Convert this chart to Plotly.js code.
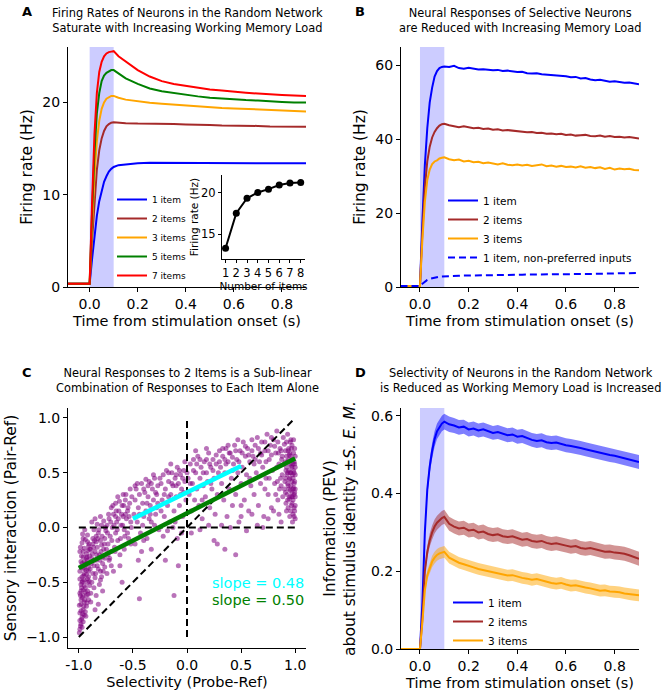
<!DOCTYPE html>
<html>
<head>
<meta charset="utf-8">
<script src="https://cdn.plot.ly/plotly-3.0.1.min.js"></script>
<style>html,body{margin:0;padding:0;background:#fff;}#chart{width:666px;height:695px;}</style>
</head>
<body>
<div id="chart"></div>
<script>
// ---------- Panel A: firing rates, random network ----------
const timeA = [-0.09, 0, 0.01, 0.02, 0.03, 0.04, 0.05, 0.06, 0.07, 0.08, 0.09, 0.1,
  0.12, 0.15, 0.2, 0.25, 0.3, 0.35, 0.4, 0.45, 0.5, 0.55, 0.6, 0.65, 0.7, 0.75, 0.8, 0.85, 0.9];
const rateA1 = [0.35, 0.35, 3, 5.6, 7.7, 9.3, 10.5, 11.4, 12.0, 12.5, 12.8, 13.0,
  13.2, 13.3, 13.4, 13.45, 13.45, 13.45, 13.4, 13.45, 13.4, 13.4, 13.4, 13.45, 13.4, 13.4, 13.4, 13.4, 13.4];
const rateA2 = [0.35, 0.35, 5, 9.5, 12.7, 14.8, 16.1, 16.9, 17.4, 17.65, 17.8, 17.85,
  17.8, 17.75, 17.7, 17.7, 17.65, 17.65, 17.6, 17.6, 17.55, 17.5, 17.5, 17.45, 17.45, 17.4, 17.4, 17.35, 17.35];
const rateA3 = [0.35, 0.35, 6.5, 12, 15.8, 18.0, 19.3, 20.0, 20.4, 20.6, 20.7, 20.7,
  20.5, 20.3, 20.1, 19.95, 19.85, 19.75, 19.65, 19.55, 19.5, 19.4, 19.35, 19.3, 19.2, 19.15, 19.1, 19.05, 19.0];
const rateA5 = [0.35, 0.35, 8, 14.5, 18.8, 21.0, 22.3, 22.9, 23.2, 23.4, 23.5, 23.5,
  23.1, 22.6, 22.0, 21.5, 21.2, 21.0, 20.8, 20.65, 20.5, 20.4, 20.35, 20.25, 20.2, 20.1, 20.05, 20.0, 20.0];
const rateA7 = [0.35, 0.35, 9, 16.5, 21, 23.3, 24.4, 25.0, 25.3, 25.45, 25.5, 25.55,
  25.0, 24.4, 23.5, 22.8, 22.3, 22.0, 21.8, 21.6, 21.4, 21.3, 21.15, 21.05, 20.95, 20.85, 20.8, 20.75, 20.7];
const labelsA = ['1 item', '2 items', '3 items', '5 items', '7 items'];

// inset: delay firing rate vs number of items
const insetItems = [1, 2, 3, 4, 5, 6, 7, 8];
const insetRate = [13.3, 17.5, 19.3, 20.0, 20.4, 20.9, 21.15, 21.2];

// ---------- Panel B: selective neurons ----------
const timeB = [-0.08, 0, 0.01, 0.02, 0.03, 0.04, 0.05, 0.06, 0.07, 0.08, 0.09, 0.1,
  0.12, 0.14, 0.16, 0.18, 0.2, 0.22, 0.24, 0.26, 0.28, 0.3, 0.32, 0.34, 0.36, 0.38, 0.4,
  0.42, 0.44, 0.46, 0.48, 0.5, 0.52, 0.54, 0.56, 0.58, 0.6, 0.62, 0.64, 0.66, 0.68, 0.7,
  0.72, 0.74, 0.76, 0.78, 0.8, 0.82, 0.84, 0.86, 0.88, 0.9];
const rateB1 = [0.3, 0.3, 18, 33, 43, 50, 54, 57, 58.5, 59.3, 59.6, 59.7,
  59.6, 59.9, 59.3, 59.1, 59.4, 59.2, 58.9, 59.0, 58.8, 58.7, 58.8, 58.5, 58.6, 58.4, 58.2,
  58.3, 57.9, 57.8, 57.9, 57.6, 57.5, 57.6, 57.3, 57.2, 57.1, 56.8, 56.9, 56.5, 56.6, 56.2,
  56.0, 56.1, 55.8, 55.6, 55.7, 55.4, 55.3, 55.4, 55.1, 54.9];
const rateB2 = [0.3, 0.3, 15, 27, 34, 38, 40.5, 42, 43, 43.7, 44.1, 44.2,
  43.8, 43.6, 43.3, 43.5, 43.2, 43.0, 43.1, 42.8, 42.9, 42.6, 42.7, 42.4, 42.5, 42.3, 42.3,
  42.1, 41.9, 42.0, 41.7, 41.8, 41.5, 41.6, 41.4, 41.5, 41.2, 41.3, 41.0, 41.1, 41.2, 40.9,
  40.8, 41.0, 40.7, 40.9, 40.6, 40.7, 40.5, 40.6, 40.4, 40.2];
const rateB3 = [0.3, 0.3, 13, 23, 29, 31.8, 33.3, 34.0, 34.3, 34.8, 35.0, 35.1,
  34.6, 34.3, 34.5, 34.0, 34.2, 33.8, 33.9, 33.5, 33.7, 33.4, 33.2, 33.5, 33.1, 33.0, 33.2,
  32.9, 33.1, 32.8, 33.0, 33.2, 32.7, 32.9, 32.6, 32.8, 32.5, 32.6, 32.4, 32.7, 32.3, 32.5,
  32.2, 32.4, 32.0, 32.3, 31.8, 32.1, 31.9, 32.0, 31.7, 31.6];
const rateB1np = [0.3, 0.3, 0.9, 1.5, 1.9, 2.2, 2.4, 2.6, 2.7, 2.8, 2.85, 2.9,
  2.95, 3.0, 3.05, 3.1, 3.1, 3.15, 3.15, 3.2, 3.2, 3.2, 3.25, 3.25, 3.3, 3.3, 3.3,
  3.35, 3.35, 3.35, 3.4, 3.4, 3.4, 3.45, 3.45, 3.45, 3.5, 3.5, 3.5, 3.5, 3.55, 3.55,
  3.55, 3.6, 3.6, 3.6, 3.65, 3.65, 3.7, 3.7, 3.75, 3.8];
const labelsB = ['1 item', '2 items', '3 items', '1 item, non-preferred inputs'];

// ---------- Panel C: sensory interaction vs selectivity ----------
const scatterC = [
[-0.99,-0.93],[-0.98,-0.88],[-0.97,-0.82],[-0.99,-0.78],[-0.96,-0.75],[-0.98,-0.70],[-0.95,-0.68],[-0.97,-0.64],[-0.93,-0.62],[-0.99,-0.60],
[-0.96,-0.57],[-0.94,-0.55],[-0.98,-0.52],[-0.92,-0.50],[-0.95,-0.48],[-0.97,-0.45],[-0.93,-0.43],[-0.99,-0.40],[-0.91,-0.40],[-0.96,-0.37],
[-0.94,-0.34],[-0.98,-0.31],[-0.92,-0.30],[-0.96,-0.27],[-0.93,-0.24],[-0.99,-0.22],[-0.95,-0.19],[-0.91,-0.17],[-0.97,-0.14],[-0.94,-0.11],
[-0.92,-0.07],[-0.99,-0.85],[-0.97,-0.91],[-0.95,-0.80],[-0.93,-0.72],[-0.91,-0.66],[-0.96,-0.62],[-0.98,-0.58],[-0.94,-0.59],[-0.90,-0.53],
[-0.92,-0.47],[-0.97,-0.50],[-0.95,-0.42],[-0.91,-0.36],[-0.97,-0.33],[-0.93,-0.28],[-0.90,-0.26],[-0.96,-0.22],[-0.98,-0.76],[-0.96,-0.86],
[-0.94,-0.77],[-0.92,-0.58],[-0.98,-0.66],[-0.95,-0.53],[-0.91,-0.45],[-0.99,-0.47],[-0.93,-0.39],[-0.95,-0.31],[-0.90,-0.20],[-0.96,-0.10],
[-0.92,-0.13],[-0.98,-0.36],
[-0.89,-0.60],[-0.88,-0.50],[-0.87,-0.42],[-0.86,-0.35],[-0.88,-0.28],[-0.85,-0.22],[-0.87,-0.15],[-0.84,-0.08],[-0.86,-0.02],[-0.83,0.03],
[-0.89,-0.68],[-0.85,-0.46],[-0.82,-0.38],[-0.84,-0.30],[-0.81,-0.25],[-0.83,-0.18],[-0.80,-0.12],[-0.82,-0.05],[-0.79,0.02],[-0.78,-0.33],
[-0.80,-0.40],[-0.77,-0.20],[-0.76,-0.10],[-0.78,-0.27],[-0.86,-0.55],[-0.84,-0.62],[-0.81,-0.52],[-0.79,-0.45],[-0.76,-0.36],[-0.88,0.05],
[-0.85,0.08],[-0.80,0.10],[-0.77,0.06],[-0.75,-0.03],[-0.87,-0.10],[-0.83,-0.35],[-0.79,-0.16],[-0.76,-0.28],[-0.82,-0.70],[-0.78,-0.58],
[-0.85,-0.75],[-0.80,-0.48],[-0.89,-0.20],[-0.86,-0.30],[-0.84,-0.13],
[-0.74,-0.42],[-0.72,-0.30],[-0.70,-0.22],[-0.73,-0.15],[-0.71,-0.08],[-0.69,0.00],[-0.72,0.08],[-0.68,0.12],[-0.66,-0.05],[-0.67,-0.18],
[-0.65,0.05],[-0.63,0.15],[-0.64,-0.12],[-0.62,-0.25],[-0.61,0.02],[-0.60,0.20],[-0.59,0.10],[-0.58,-0.02],[-0.57,0.25],[-0.56,0.08],
[-0.55,0.15],[-0.54,-0.10],[-0.53,0.22],[-0.52,0.05],[-0.51,0.28],[-0.70,0.18],[-0.74,0.02],[-0.66,0.22],[-0.62,-0.35],[-0.58,-0.20],
[-0.55,-0.05],[-0.60,-0.50],[-0.68,-0.40],[-0.73,-0.25],[-0.64,0.28],[-0.57,0.12],[-0.52,-0.15],[-0.70,-0.35],[-0.66,0.10],[-0.59,0.30],
[-0.49,0.12],[-0.48,0.25],[-0.47,0.35],[-0.46,0.05],[-0.45,0.18],[-0.44,0.30],[-0.43,-0.05],[-0.42,0.40],[-0.41,0.22],[-0.40,0.10],
[-0.39,0.32],[-0.38,0.15],[-0.37,-0.10],[-0.36,0.28],[-0.35,0.42],[-0.34,0.20],[-0.33,0.05],[-0.32,0.35],[-0.31,0.25],[-0.30,0.45],
[-0.29,0.12],[-0.28,0.30],[-0.27,0.38],[-0.26,-0.02],[-0.48,-0.15],[-0.45,-0.30],[-0.42,-0.22],[-0.40,-0.12],[-0.38,0.44],[-0.35,0.08],
[-0.33,-0.20],[-0.30,0.02],[-0.28,0.18],[-0.44,-0.65],[-0.46,0.40],[-0.36,0.38],[-0.31,0.48],[-0.27,0.22],[-0.41,0.02],[-0.34,0.12],
[-0.24,0.40],[-0.23,0.25],[-0.22,0.48],[-0.21,0.10],[-0.20,0.35],[-0.19,0.52],[-0.18,0.20],[-0.17,0.42],[-0.16,0.05],[-0.15,0.30],
[-0.14,0.50],[-0.13,0.38],[-0.12,0.15],[-0.11,0.45],[-0.10,0.28],[-0.09,0.55],[-0.08,0.40],[-0.07,0.20],[-0.06,0.48],[-0.05,0.35],
[-0.04,0.10],[-0.03,0.52],[-0.02,0.42],[-0.01,0.25],[-0.22,-0.08],[-0.18,-0.03],[-0.13,0.00],[-0.09,-0.10],[-0.05,-0.05],[-0.20,-0.30],
[-0.12,-0.62],[-0.08,-0.35],[-0.15,0.58],[-0.06,0.30],[-0.02,0.60],[-0.24,0.15],[-0.10,0.48],[-0.03,0.32],[-0.17,0.28],[-0.11,0.05],
[0.01,0.45],[0.02,0.30],[0.03,0.58],[0.04,0.15],[0.05,0.40],[0.06,0.62],[0.07,0.25],[0.08,0.50],[0.09,0.35],[0.10,0.65],
[0.11,0.20],[0.12,0.45],[0.13,0.55],[0.14,0.08],[0.15,0.38],[0.16,0.60],[0.17,0.28],[0.18,0.50],[0.19,0.42],[0.20,0.68],
[0.21,0.18],[0.22,0.55],[0.23,0.35],[0.24,0.62],[0.25,0.45],[0.26,0.12],[0.27,0.58],[0.28,0.30],[0.29,0.50],[0.30,0.70],
[0.04,-0.05],[0.12,-0.02],[0.20,0.02],[0.28,-0.15],[0.35,-0.20],[0.25,-0.12],[0.08,0.70],[0.18,0.72],[0.14,0.25],[0.22,0.40],
[0.31,0.55],[0.32,0.40],[0.33,0.65],[0.34,0.25],[0.35,0.50],[0.36,0.72],[0.37,0.10],[0.38,0.60],[0.39,0.35],[0.40,0.68],
[0.41,0.45],[0.42,0.20],[0.43,0.58],[0.44,0.75],[0.45,0.30],[0.46,0.62],[0.47,0.50],[0.48,0.05],[0.49,0.70],[0.50,0.40],
[0.51,0.55],[0.52,0.78],[0.53,0.25],[0.54,0.65],[0.55,0.48],[0.56,0.72],[0.57,0.15],[0.58,0.60],[0.59,0.38],[0.60,0.80],
[0.45,-0.25],[0.32,0.02],[0.40,0.00],[0.50,0.10],[0.55,-0.03],[0.38,0.75],[0.47,0.80],[0.35,0.62],[0.42,0.52],[0.58,0.45],
[0.61,0.65],[0.62,0.30],[0.63,0.75],[0.64,0.50],[0.65,0.82],[0.66,0.20],[0.67,0.60],[0.68,0.40],[0.69,0.78],[0.70,0.55],
[0.71,0.10],[0.72,0.70],[0.73,0.45],[0.74,0.85],[0.75,0.30],[0.76,0.62],[0.77,0.75],[0.78,0.18],[0.79,0.52],[0.80,0.80],
[0.81,0.40],[0.82,0.68],[0.83,0.88],[0.84,0.25],[0.85,0.58],[0.86,0.72],[0.87,0.05],[0.88,0.48],[0.89,0.82],[0.90,0.35],
[0.65,0.02],[0.70,0.00],[0.75,0.08],[0.80,0.15],[0.85,0.12],[0.62,0.58],[0.68,0.68],[0.73,0.60],[0.78,0.66],[0.83,0.55],
[0.88,0.65],[0.76,0.45],[0.82,0.30],[0.87,0.38],[0.72,0.35],
[0.91,0.70],[0.92,0.55],[0.93,0.40],[0.94,0.62],[0.95,0.28],[0.96,0.50],[0.97,0.75],[0.98,0.35],[0.99,0.60],[1.00,0.20],
[0.91,0.45],[0.92,0.78],[0.93,0.25],[0.94,0.52],[0.95,0.68],[0.96,0.15],[0.97,0.42],[0.98,0.58],[0.99,0.30],[1.00,0.48],
[0.91,0.32],[0.93,0.60],[0.95,0.45],[0.97,0.22],[0.99,0.40],[1.00,0.65],[0.92,0.15],[0.94,0.35],[0.96,0.65],[0.98,0.12],
[1.00,0.35],[0.99,0.10],[1.00,0.08],[0.98,0.25],[0.96,0.38],[0.94,0.72],[0.92,0.65],[0.97,0.55],[0.99,0.50],[1.00,0.28],
[0.95,0.58],[0.93,0.50],[0.91,0.60],[0.98,0.45],[1.00,0.55],[0.97,0.32],[0.95,0.10],[0.99,0.18],[0.96,0.80],[0.93,0.85],
[-0.995,-0.96],[-0.985,-0.90],[-0.975,-0.84],[-0.965,-0.79],[-0.955,-0.72],[-0.945,-0.66],[-0.985,-0.62],[-0.975,-0.55],[-0.965,-0.49],[-0.955,-0.44],
[-0.945,-0.38],[-0.935,-0.33],[-0.925,-0.27],[-0.915,-0.21],[-0.905,-0.15],[-0.995,-0.71],[-0.935,-0.81],[-0.925,-0.69],[-0.915,-0.61],[-0.905,-0.49],
[-0.975,-0.26],[-0.985,-0.18],[-0.965,-0.06],[-0.945,-0.02],[-0.895,-0.38],[-0.885,-0.33],[-0.875,-0.24],[-0.865,-0.18],[-0.855,-0.12],[-0.845,-0.42],
[-0.835,-0.25],[-0.825,-0.10],[-0.815,-0.02],[-0.805,-0.30],[-0.795,-0.22],[-0.785,-0.08],[-0.775,-0.40],[-0.765,-0.15],[-0.755,0.00],[-0.745,-0.20],
[-0.735,-0.05],[-0.725,0.12],[-0.715,-0.28],[-0.705,0.05],[-0.695,-0.12],[-0.685,0.20],[-0.675,0.02],[-0.665,-0.22],[-0.655,0.15],[-0.645,-0.02],
[-0.635,0.08],[-0.625,0.24],[-0.615,-0.10],[-0.605,0.12],[-0.595,0.02],[-0.585,0.20],[-0.575,-0.08],[-0.565,0.30],[-0.545,0.18],[-0.535,0.10],
[-0.525,0.35],[-0.515,0.00],
[-0.48,0.38],[-0.44,0.12],[-0.40,0.35],[-0.37,0.22],[-0.33,0.40],[-0.29,0.32],[-0.25,0.45],[-0.21,0.30],[-0.17,0.50],[-0.14,0.40],
[-0.10,0.38],[-0.07,0.52],[-0.04,0.45],[0.00,0.50],[0.03,0.40],[0.06,0.52],[0.09,0.58],[0.12,0.62],[0.15,0.50],[0.18,0.62],
[0.21,0.58],[0.24,0.52],[0.27,0.66],[0.30,0.60],[0.33,0.72],[0.36,0.58],[0.39,0.68],[0.42,0.64],[0.45,0.70],[0.48,0.60],
[0.51,0.68],[0.54,0.74],[0.57,0.66],[0.60,0.70],[0.63,0.62],[0.66,0.72],[0.69,0.66],[0.72,0.78],[0.75,0.70],[0.78,0.82],
[0.81,0.74],[0.84,0.78],[0.87,0.70],[0.90,0.76],
[0.985,0.68],[0.975,0.62],[0.965,0.56],[0.955,0.50],[0.945,0.44],[0.935,0.38],[0.925,0.30],[0.915,0.22],[0.995,0.42],[0.985,0.36],
[0.975,0.28],[0.965,0.20],[0.955,0.34],[0.945,0.26],[0.935,0.18],[0.995,0.15],[0.985,0.52],[0.975,0.48],[0.965,0.72],[0.955,0.78],
[0.945,0.66],[0.935,0.70],[0.925,0.48],[0.915,0.52],[0.905,0.42],[0.895,0.58],[0.885,0.28],[0.875,0.62],[0.865,0.45],[0.855,0.35],
[0.845,0.68],[0.835,0.42],[0.995,0.58],[0.995,0.72],[0.985,0.80],[0.975,0.05],[0.995,0.32],[0.965,0.28],[0.50,0.20],[0.60,0.12]
];
const fitAllX = [-1.0, 1.0];
const fitAllY = [-0.37, 0.63];
const fitMidX = [-0.5, 0.5];
const fitMidY = [0.08, 0.56];
const refHorizX = [-1, 1], refHorizY = [0, 0];
const refVertX = [0, 0], refVertY = [-1, 1];
const refDiagX = [-1, 1], refDiagY = [-1, 1];
const slopeTexts = ['slope = 0.48', 'slope = 0.50'];

// ---------- Panel D: selectivity (PEV) ----------
const timeD = timeB;
const pevD1 = [0, 0, 0.12, 0.30, 0.41, 0.47, 0.51, 0.54, 0.56, 0.57, 0.58, 0.585,
  0.578, 0.575, 0.570, 0.572, 0.565, 0.567, 0.562, 0.565, 0.560, 0.556, 0.558, 0.553, 0.550, 0.552, 0.546,
  0.548, 0.542, 0.538, 0.535, 0.537, 0.532, 0.530, 0.531, 0.527, 0.524, 0.522, 0.520, 0.517, 0.514, 0.511,
  0.507, 0.505, 0.502, 0.499, 0.497, 0.494, 0.491, 0.488, 0.485, 0.481];
const semD1 = [0, 0, 0.008, 0.014, 0.017, 0.019, 0.02, 0.02, 0.02, 0.02, 0.02, 0.02,
  0.02, 0.019, 0.019, 0.018, 0.018, 0.018, 0.018, 0.018, 0.018, 0.018, 0.018, 0.018, 0.018, 0.018, 0.018,
  0.018, 0.018, 0.018, 0.018, 0.018, 0.018, 0.018, 0.018, 0.018, 0.018, 0.018, 0.018, 0.018, 0.018, 0.018,
  0.018, 0.018, 0.018, 0.018, 0.018, 0.018, 0.018, 0.018, 0.018, 0.018];
const pevD2 = [0, 0, 0.08, 0.20, 0.25, 0.28, 0.30, 0.315, 0.325, 0.332, 0.337, 0.340,
  0.322, 0.315, 0.310, 0.312, 0.305, 0.307, 0.300, 0.302, 0.296, 0.293, 0.295, 0.290, 0.288, 0.290, 0.285,
  0.281, 0.283, 0.278, 0.276, 0.278, 0.273, 0.270, 0.272, 0.268, 0.266, 0.263, 0.265, 0.260, 0.258, 0.260,
  0.256, 0.252, 0.250, 0.251, 0.248, 0.247, 0.245, 0.241, 0.236, 0.232];
const semD2 = [0, 0, 0.006, 0.012, 0.015, 0.017, 0.018, 0.018, 0.018, 0.018, 0.018, 0.018,
  0.018, 0.018, 0.018, 0.018, 0.018, 0.018, 0.018, 0.018, 0.018, 0.018, 0.018, 0.018, 0.018, 0.018, 0.018,
  0.018, 0.018, 0.018, 0.018, 0.018, 0.018, 0.018, 0.018, 0.018, 0.018, 0.018, 0.018, 0.018, 0.018, 0.018,
  0.018, 0.018, 0.018, 0.018, 0.018, 0.018, 0.018, 0.018, 0.018, 0.018];
const pevD3 = [0, 0, 0.07, 0.15, 0.19, 0.21, 0.225, 0.235, 0.242, 0.246, 0.249, 0.25,
  0.235, 0.228, 0.222, 0.218, 0.215, 0.210, 0.206, 0.203, 0.200, 0.197, 0.194, 0.192, 0.189, 0.190, 0.186,
  0.183, 0.181, 0.178, 0.180, 0.176, 0.173, 0.170, 0.168, 0.170, 0.166, 0.163, 0.164, 0.160, 0.158, 0.156,
  0.152, 0.150, 0.151, 0.148, 0.147, 0.146, 0.143, 0.141, 0.139, 0.138];
const semD3 = [0, 0, 0.005, 0.01, 0.012, 0.014, 0.015, 0.015, 0.015, 0.015, 0.015, 0.015,
  0.015, 0.015, 0.015, 0.015, 0.015, 0.015, 0.015, 0.015, 0.015, 0.015, 0.015, 0.015, 0.015, 0.015, 0.015,
  0.015, 0.015, 0.015, 0.015, 0.015, 0.015, 0.015, 0.015, 0.015, 0.015, 0.015, 0.015, 0.015, 0.015, 0.015,
  0.015, 0.015, 0.015, 0.015, 0.015, 0.015, 0.015, 0.015, 0.015, 0.015];
const labelsD = ['1 item', '2 items', '3 items'];

// ---------- build ----------
const FONT = 'DejaVu Sans, Verdana, sans-serif';
const C_BLUE = '#0000ff', C_BROWN = '#a52a2a', C_ORANGE = '#ffa500', C_GREEN = '#008000', C_RED = '#ff0000';
const traces = [];

function line(x, y, color, name, xa, ya, legend, extra) {
  return Object.assign({type: 'scatter', mode: 'lines', x: x, y: y, name: name,
    line: {color: color, width: 2}, xaxis: xa, yaxis: ya, legend: legend,
    showlegend: !!name, hoverinfo: 'skip'}, extra || {});
}

// A
[[rateA1, C_BLUE], [rateA2, C_BROWN], [rateA3, C_ORANGE], [rateA5, C_GREEN], [rateA7, C_RED]].forEach((s, i) => {
  traces.push(line(timeA, s[0], s[1], labelsA[i], 'x', 'y', 'legend'));
});
// inset
traces.push({type: 'scatter', mode: 'lines+markers', x: insetItems, y: insetRate,
  line: {color: 'black', width: 2}, marker: {color: 'black', size: 7},
  xaxis: 'x5', yaxis: 'y5', showlegend: false, hoverinfo: 'skip'});

// B
traces.push(line(timeB, rateB1, C_BLUE, labelsB[0], 'x2', 'y2', 'legend2'));
traces.push(line(timeB, rateB2, C_BROWN, labelsB[1], 'x2', 'y2', 'legend2'));
traces.push(line(timeB, rateB3, C_ORANGE, labelsB[2], 'x2', 'y2', 'legend2'));
traces.push(line(timeB, rateB1np, C_BLUE, labelsB[3], 'x2', 'y2', 'legend2', {line: {color: C_BLUE, width: 2, dash: '7px,4px'}}));

// C
traces.push({type: 'scatter', mode: 'markers', x: scatterC.map(p => p[0]), y: scatterC.map(p => p[1]),
  marker: {color: 'rgba(128,0,128,0.55)', size: 5, line: {width: 0}},
  xaxis: 'x3', yaxis: 'y3', showlegend: false, hoverinfo: 'skip'});
[[refHorizX, refHorizY], [refVertX, refVertY], [refDiagX, refDiagY]].forEach(r => {
  traces.push({type: 'scatter', mode: 'lines', x: r[0], y: r[1], line: {color: 'black', width: 2, dash: '7px,4px'},
    xaxis: 'x3', yaxis: 'y3', showlegend: false, hoverinfo: 'skip'});
});
traces.push({type: 'scatter', mode: 'lines', x: fitMidX, y: fitMidY, line: {color: '#00ffff', width: 4.5},
  xaxis: 'x3', yaxis: 'y3', showlegend: false, hoverinfo: 'skip'});
traces.push({type: 'scatter', mode: 'lines', x: fitAllX, y: fitAllY, line: {color: C_GREEN, width: 4.5},
  xaxis: 'x3', yaxis: 'y3', showlegend: false, hoverinfo: 'skip'});

// D
[[pevD1, semD1, C_BLUE, 'rgba(0,0,255,0.5)'], [pevD2, semD2, C_BROWN, 'rgba(165,42,42,0.5)'],
 [pevD3, semD3, C_ORANGE, 'rgba(255,165,0,0.5)']].forEach((s, i) => {
  const lo = s[0].map((v, k) => v - s[1][k]);
  const hi = s[0].map((v, k) => v + s[1][k]);
  traces.push({type: 'scatter', mode: 'lines', x: timeD, y: lo, line: {width: 0, color: s[3]},
    xaxis: 'x4', yaxis: 'y4', showlegend: false, hoverinfo: 'skip'});
  traces.push({type: 'scatter', mode: 'lines', x: timeD, y: hi, line: {width: 0, color: s[3]}, fill: 'tonexty',
    fillcolor: s[3], xaxis: 'x4', yaxis: 'y4', showlegend: false, hoverinfo: 'skip'});
  traces.push(line(timeD, s[0], s[2], labelsD[i], 'x4', 'y4', 'legend3'));
});

const W = 666, H = 695;
const px = v => v / W, py = v => 1 - v / H;

function ax(extra) {
  return Object.assign({showline: true, linecolor: 'black', linewidth: 1, mirror: false,
    ticks: 'outside', ticklen: 4, tickwidth: 1, tickcolor: 'black', showgrid: false, zeroline: false,
    tickfont: {family: FONT, size: 14, color: 'black'}, fixedrange: true, automargin: false}, extra);
}
const timeTicks = {tickvals: [0, 0.2, 0.4, 0.6, 0.8], ticktext: ['0.0', '0.2', '0.4', '0.6', '0.8']};
const xTitle = t => ({text: t, font: {family: FONT, size: 14.5, color: 'black'}, standoff: 5});
const yTitle = (t, s) => ({text: t, font: {family: FONT, size: 15.5, color: 'black'}, standoff: s});

const legendBase = {xanchor: 'left', yanchor: 'top', bgcolor: 'rgba(0,0,0,0)', borderwidth: 0,
  tracegroupgap: 0, itemwidth: 30, traceorder: 'normal'};

const layout = {
  width: W, height: H, autosize: false,
  margin: {l: 0, r: 0, t: 0, b: 0},
  paper_bgcolor: 'white', plot_bgcolor: 'rgba(0,0,0,0)',
  font: {family: FONT, color: 'black'},
  hovermode: false,
  xaxis: ax(Object.assign({domain: [px(68), px(306)], range: [-0.09, 0.9], anchor: 'y', title: xTitle('Time from stimulation onset (s)')}, timeTicks)),
  yaxis: ax({domain: [py(287), py(47)], range: [0, 26], anchor: 'x', tickvals: [0, 10, 20], title: yTitle('Firing rate (Hz)', 5)}),
  xaxis2: ax(Object.assign({domain: [px(401), px(639)], range: [-0.078, 0.9], anchor: 'y2', title: xTitle('Time from stimulation onset (s)')}, timeTicks)),
  yaxis2: ax({domain: [py(287), py(47)], range: [0, 65], anchor: 'x2', tickvals: [0, 20, 40, 60], title: yTitle('Firing rate (Hz)', 5)}),
  xaxis3: ax({domain: [px(68), px(306)], range: [-1.1, 1.1], anchor: 'y3', tickvals: [-1, -0.5, 0, 0.5, 1],
    ticktext: ['-1.0', '-0.5', '0.0', '0.5', '1.0'], title: xTitle('Selectivity (Probe-Ref)')}),
  yaxis3: ax({domain: [py(648), py(408)], range: [-1.1, 1.09], anchor: 'x3', tickvals: [-1, -0.5, 0, 0.5, 1],
    ticktext: ['\u22121.0', '\u22120.5', '0.0', '0.5', '1.0'], title: yTitle('Sensory interaction (Pair-Ref)', 5)}),
  xaxis4: ax(Object.assign({domain: [px(401), px(639)], range: [-0.078, 0.9], anchor: 'y4', title: xTitle('Time from stimulation onset (s)')}, timeTicks)),
  yaxis4: ax({domain: [py(649), py(408)], range: [0, 0.62], anchor: 'x4', tickvals: [0, 0.2, 0.4, 0.6],
    ticktext: ['0.0', '0.2', '0.4', '0.6'], title: yTitle('Information (PEV)<br>about stimulus identity \u00b1<i>S. E. M.</i>', 11)}),
  xaxis5: ax({domain: [px(222), px(305)], range: [0.67, 8.4], anchor: 'y5', tickvals: insetItems, ticklen: 3,
    tickfont: {family: FONT, size: 11.5, color: 'black'},
    title: {text: 'Number of items', font: {family: FONT, size: 10.5, color: 'black'}, standoff: 0}}),
  yaxis5: ax({domain: [py(259), py(175)], range: [12, 22.1], anchor: 'x5', tickvals: [15, 20], ticklen: 3,
    tickfont: {family: FONT, size: 11.5, color: 'black'},
    title: {text: 'Firing rate (Hz)', font: {family: FONT, size: 10.5, color: 'black'}, standoff: 0}}),
  shapes: [
    {type: 'rect', xref: 'x', yref: 'y domain', x0: 0, x1: 0.1, y0: 0, y1: 1, fillcolor: 'rgba(0,0,255,0.2)', line: {width: 0}, layer: 'below'},
    {type: 'rect', xref: 'x2', yref: 'y2 domain', x0: 0, x1: 0.1, y0: 0, y1: 1, fillcolor: 'rgba(0,0,255,0.2)', line: {width: 0}, layer: 'below'},
    {type: 'rect', xref: 'x4', yref: 'y4 domain', x0: 0, x1: 0.1, y0: 0, y1: 1, fillcolor: 'rgba(0,0,255,0.2)', line: {width: 0}, layer: 'below'}
  ],
  legend: Object.assign({x: px(112), y: py(185), font: {family: FONT, size: 9, color: 'black'}}, legendBase),
  legend2: Object.assign({x: px(443), y: py(186), font: {family: FONT, size: 10.5, color: 'black'}}, legendBase),
  legend3: Object.assign({x: px(448), y: py(588), font: {family: FONT, size: 10.5, color: 'black'}}, legendBase),
  annotations: [
    {text: '<b>A</b>', x: px(27), y: py(11), xref: 'paper', yref: 'paper', showarrow: false, font: {family: FONT, size: 13}, xanchor: 'center', yanchor: 'middle'},
    {text: '<b>B</b>', x: px(360), y: py(11), xref: 'paper', yref: 'paper', showarrow: false, font: {family: FONT, size: 13}, xanchor: 'center', yanchor: 'middle'},
    {text: '<b>C</b>', x: px(27), y: py(372), xref: 'paper', yref: 'paper', showarrow: false, font: {family: FONT, size: 13}, xanchor: 'center', yanchor: 'middle'},
    {text: '<b>D</b>', x: px(360), y: py(372), xref: 'paper', yref: 'paper', showarrow: false, font: {family: FONT, size: 13}, xanchor: 'center', yanchor: 'middle'},
    {text: 'Firing Rates of Neurons in the Random Network<br>Saturate with Increasing Working Memory Load', x: px(187), y: py(20.5), xref: 'paper', yref: 'paper',
      showarrow: false, font: {family: FONT, size: 11.4}, xanchor: 'center', yanchor: 'middle'},
    {text: 'Neural Responses of Selective Neurons<br>are Reduced with Increasing Memory Load', x: px(520.5), y: py(20.5), xref: 'paper', yref: 'paper',
      showarrow: false, font: {family: FONT, size: 11.4}, xanchor: 'center', yanchor: 'middle'},
    {text: 'Neural Responses to 2 Items is a Sub-linear<br>Combination of Responses to Each Item Alone', x: px(187.5), y: py(381), xref: 'paper', yref: 'paper',
      showarrow: false, font: {family: FONT, size: 11.4}, xanchor: 'center', yanchor: 'middle'},
    {text: 'Selectivity of Neurons in the Random Network<br>is Reduced as Working Memory Load is Increased', x: px(520.5), y: py(380.5), xref: 'paper', yref: 'paper',
      showarrow: false, font: {family: FONT, size: 11.4}, xanchor: 'center', yanchor: 'middle'},
    {text: slopeTexts[0], x: 1.1, y: -0.51, xref: 'x3', yref: 'y3', showarrow: false, xanchor: 'right', yanchor: 'middle',
      font: {family: FONT, size: 14.5, color: '#00ffff'}},
    {text: slopeTexts[1], x: 1.1, y: -0.66, xref: 'x3', yref: 'y3', showarrow: false, xanchor: 'right', yanchor: 'middle',
      font: {family: FONT, size: 14.5, color: C_GREEN}}
  ]
};

Plotly.newPlot('chart', traces, layout, {staticPlot: true, displayModeBar: false});
</script>
</body>
</html>
